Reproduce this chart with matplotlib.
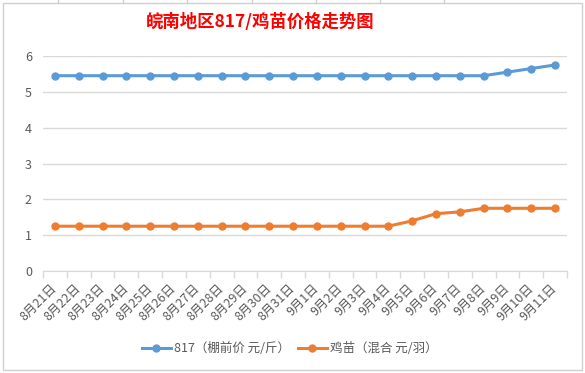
import matplotlib.pyplot as plt
from matplotlib.lines import Line2D
from matplotlib.patches import Rectangle

plt.rcParams['font.family'] = ['Noto Sans CJK SC', 'DejaVu Sans']

# ------------------------------
# DADOS
# ------------------------------
datas = ["8月21日", "8月22日", "8月23日", "8月24日", "8月25日", "8月26日",
         "8月27日", "8月28日", "8月29日", "8月30日", "8月31日", "9月1日",
         "9月2日", "9月3日", "9月4日", "9月5日", "9月6日", "9月7日",
         "9月8日", "9月9日", "9月10日", "9月11日"]
preco_817 = [5.45] * 19 + [5.55, 5.65, 5.75]
preco_jimiao = [1.25] * 15 + [1.4, 1.6, 1.65, 1.75, 1.75, 1.75, 1.75]

nome_817 = "817（棚前价 元/斤）"
nome_jimiao = "鸡苗（混合 元/羽）"
titulo = "皖南地区817/鸡苗价格走势图"

azul = "#5B9BD5"
laranja = "#ED7D31"
cinza_txt = "#595959"
cinza_grade = "#D9D9D9"

# ------------------------------
# FIGURA
# ------------------------------
W, H = 585, 373
fig = plt.figure(figsize=(W / 100, H / 100), dpi=100)

# borda do gráfico (estilo planilha)
fig.patches.append(Rectangle((3 / W, 1 - 370 / H), 579 / W, 367 / H,
                             transform=fig.transFigure, fill=False,
                             edgecolor="#D0D0D0", lw=1))
for xc in [58, 123, 187, 252, 316, 380, 444]:
    fig.lines.append(Line2D([xc / W, xc / W], [1, 1 - 3 / H],
                            transform=fig.transFigure, color="#D0D0D0", lw=1))

ax = fig.add_axes([43 / W, 1 - 271 / H, 524 / W, 215 / H])

x = list(range(len(datas)))
ax.plot(x, preco_817, color=azul, lw=2.2, marker="o", ms=5, label=nome_817)
ax.plot(x, preco_jimiao, color=laranja, lw=2.2, marker="o", ms=5, label=nome_jimiao)

ax.set_xlim(-0.5, len(datas) - 0.5)
ax.set_ylim(0, 6)
ax.set_yticks(range(0, 7))
ax.yaxis.grid(True, color=cinza_grade, lw=1)
ax.set_axisbelow(True)
ax.tick_params(axis="y", length=0, labelsize=9, labelcolor=cinza_txt, pad=8)

ax.set_xticks(x)
ax.set_xticklabels(datas, rotation=45, ha="right", va="center",
                   rotation_mode="anchor", fontsize=9, color=cinza_txt)
ax.tick_params(axis="x", which="major", length=0, pad=11)
ax.set_xticks([i - 0.5 for i in range(len(datas) + 1)], minor=True)
ax.tick_params(axis="x", which="minor", length=5, color=cinza_grade, width=1)

for s in ["top", "right", "left"]:
    ax.spines[s].set_visible(False)
ax.spines["bottom"].set_color(cinza_grade)

fig.text(260 / W, 1 - 22 / H, titulo, ha="center", va="center",
         fontsize=12.5, fontweight="bold", color="red")

fig.legend(loc="center", bbox_to_anchor=(290 / W, 1 - 349 / H), ncol=2,
           frameon=False, fontsize=9, labelcolor=cinza_txt,
           handlelength=2.3, columnspacing=0.6, handletextpad=0.3)

fig.savefig("out.png", dpi=100)
